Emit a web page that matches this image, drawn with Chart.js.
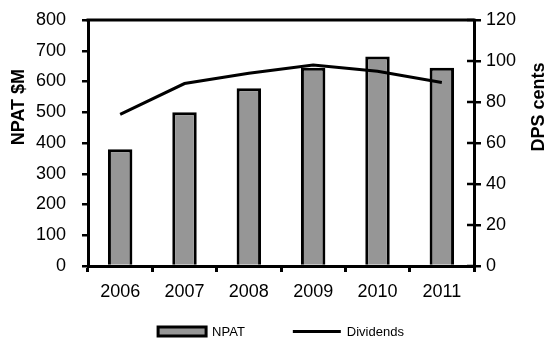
<!DOCTYPE html>
<html>
<head>
<meta charset="utf-8">
<title>NPAT and Dividends</title>
<style>
  html, body { margin: 0; padding: 0; background: #ffffff; }
  #wrap { width: 551px; height: 340px; position: relative; }
</style>
<script src="https://cdn.jsdelivr.net/npm/chart.js@4/dist/chart.umd.min.js"></script>
</head>
<body>
<div id="wrap"><canvas id="chart"></canvas></div>
<script>
// Financial years on the category axis
const years = ['2006', '2007', '2008', '2009', '2010', '2011'];
// Net profit after tax, $M (left axis)
const npat = [380, 500, 578, 645, 681, 645];
// Dividend per share, cents (right axis)
const dps = [74, 89, 94, 98, 95, 89.5];

// Axis ranges and steps
const npatAxis = { min: 0, max: 800, step: 100 };
const dpsAxis = { min: 0, max: 120, step: 20 };

// Axis and legend captions
const leftTitle = 'NPAT $M';
const rightTitle = 'DPS cents';
const seriesNames = ['NPAT', 'Dividends'];

const FONT = '"Liberation Sans", Arial, Helvetica, sans-serif';
Chart.defaults.font.family = FONT;
Chart.defaults.color = '#000000';

// Frame, crossing tick stubs on the right axis, rotated axis titles and the legend row
const decorations = {
  id: 'decorations',
  afterDraw(chart) {
    const { ctx, chartArea: a, scales } = chart;
    ctx.save();
    ctx.strokeStyle = '#000000';
    ctx.fillStyle = '#000000';

    // top edge of the plot frame
    ctx.lineWidth = 3;
    ctx.beginPath();
    ctx.moveTo(a.left - 1.5, a.top);
    ctx.lineTo(a.right + 1.5, a.top);
    ctx.stroke();

    // right axis tick marks cross the axis line
    const r = scales.y1;
    ctx.lineWidth = 2.5;
    r.ticks.forEach(t => {
      const py = r.getPixelForValue(t.value);
      ctx.beginPath();
      ctx.moveTo(a.right - 7, py);
      ctx.lineTo(a.right, py);
      ctx.stroke();
    });

    // axis titles
    const titleY = a.top + (a.bottom - a.top) * 0.354;
    ctx.font = 'bold 18px ' + FONT;
    ctx.textAlign = 'center';
    ctx.textBaseline = 'middle';
    [[leftTitle, 19], [rightTitle, 539]].forEach(([txt, x]) => {
      ctx.save();
      ctx.translate(x, titleY);
      ctx.rotate(-Math.PI / 2);
      ctx.fillText(txt, 0, 0);
      ctx.restore();
    });

    // legend row, centred under the plot area
    ctx.font = '13px ' + FONT;
    ctx.textAlign = 'left';
    const sw = 48, gap = 6, sep = 48;
    const items = chart.data.datasets.map(ds => ({
      label: ds.label,
      kind: ds.type === 'line' ? 'line' : 'bar',
      fill: ds.backgroundColor,
      stroke: ds.borderColor
    }));
    const widths = items.map(it => sw + gap + ctx.measureText(it.label).width);
    const total = widths.reduce((s, w) => s + w, 0) + sep * (items.length - 1);
    let x = (a.left + a.right) / 2 - total / 2;
    const cy = chart.height - 8.5;
    items.forEach((it, i) => {
      if (it.kind === 'bar') {
        ctx.fillStyle = it.fill;
        ctx.fillRect(x, cy - 4.5, sw, 9);
        ctx.lineWidth = 3;
        ctx.strokeStyle = it.stroke;
        ctx.strokeRect(x, cy - 4.5, sw, 9);
      } else {
        ctx.lineWidth = 3;
        ctx.strokeStyle = it.stroke;
        ctx.beginPath();
        ctx.moveTo(x, cy);
        ctx.lineTo(x + sw, cy);
        ctx.stroke();
      }
      ctx.fillStyle = '#000000';
      ctx.fillText(it.label, x + sw + gap, cy + 1);
      x += widths[i] + sep;
    });
    ctx.restore();
  }
};

// Fixed axis box sizes so the plot frame spans the same area on every render
const fixWidth = w => s => { s.width = w; s.paddingTop = 10; s.paddingBottom = 10; };

new Chart(document.getElementById('chart'), {
  data: {
    labels: years,
    datasets: [
      {
        type: 'bar',
        label: seriesNames[0],
        data: npat,
        yAxisID: 'y',
        backgroundColor: '#969696',
        borderColor: '#000000',
        borderWidth: 3,
        barPercentage: 0.38,
        categoryPercentage: 1,
        order: 1
      },
      {
        type: 'line',
        label: seriesNames[1],
        data: dps,
        yAxisID: 'y1',
        borderColor: '#000000',
        backgroundColor: '#000000',
        borderWidth: 3,
        pointRadius: 0,
        tension: 0,
        fill: false,
        order: 0
      }
    ]
  },
  options: {
    responsive: true,
    maintainAspectRatio: false,
    devicePixelRatio: 1,
    animation: false,
    layout: { padding: { left: 0, right: 0, top: 20, bottom: 34 } },
    plugins: {
      legend: { display: false },
      tooltip: { enabled: false },
      title: { display: false }
    },
    scales: {
      x: {
        type: 'category',
        offset: true,
        grid: { offset: true, drawOnChartArea: false, tickLength: 6, color: '#000000', lineWidth: 3 },
        border: { color: '#000000', width: 3 },
        ticks: { color: '#000000', font: { size: 18 }, padding: 9, maxRotation: 0 },
        afterFit: s => { s.height = 40; }
      },
      y: {
        position: 'left',
        min: npatAxis.min,
        max: npatAxis.max,
        grid: { drawOnChartArea: false, tickLength: 6, color: '#000000', lineWidth: 2.5 },
        border: { color: '#000000', width: 3 },
        ticks: { stepSize: npatAxis.step, color: '#000000', font: { size: 18 }, padding: 16 },
        afterFit: fixWidth(88)
      },
      y1: {
        position: 'right',
        min: dpsAxis.min,
        max: dpsAxis.max,
        grid: { drawOnChartArea: false, tickLength: 7, color: '#000000', lineWidth: 2.5 },
        border: { color: '#000000', width: 3 },
        ticks: { stepSize: dpsAxis.step, color: '#000000', font: { size: 18 }, padding: 5 },
        afterFit: fixWidth(77)
      }
    }
  },
  plugins: [decorations]
});
</script>
</body>
</html>
